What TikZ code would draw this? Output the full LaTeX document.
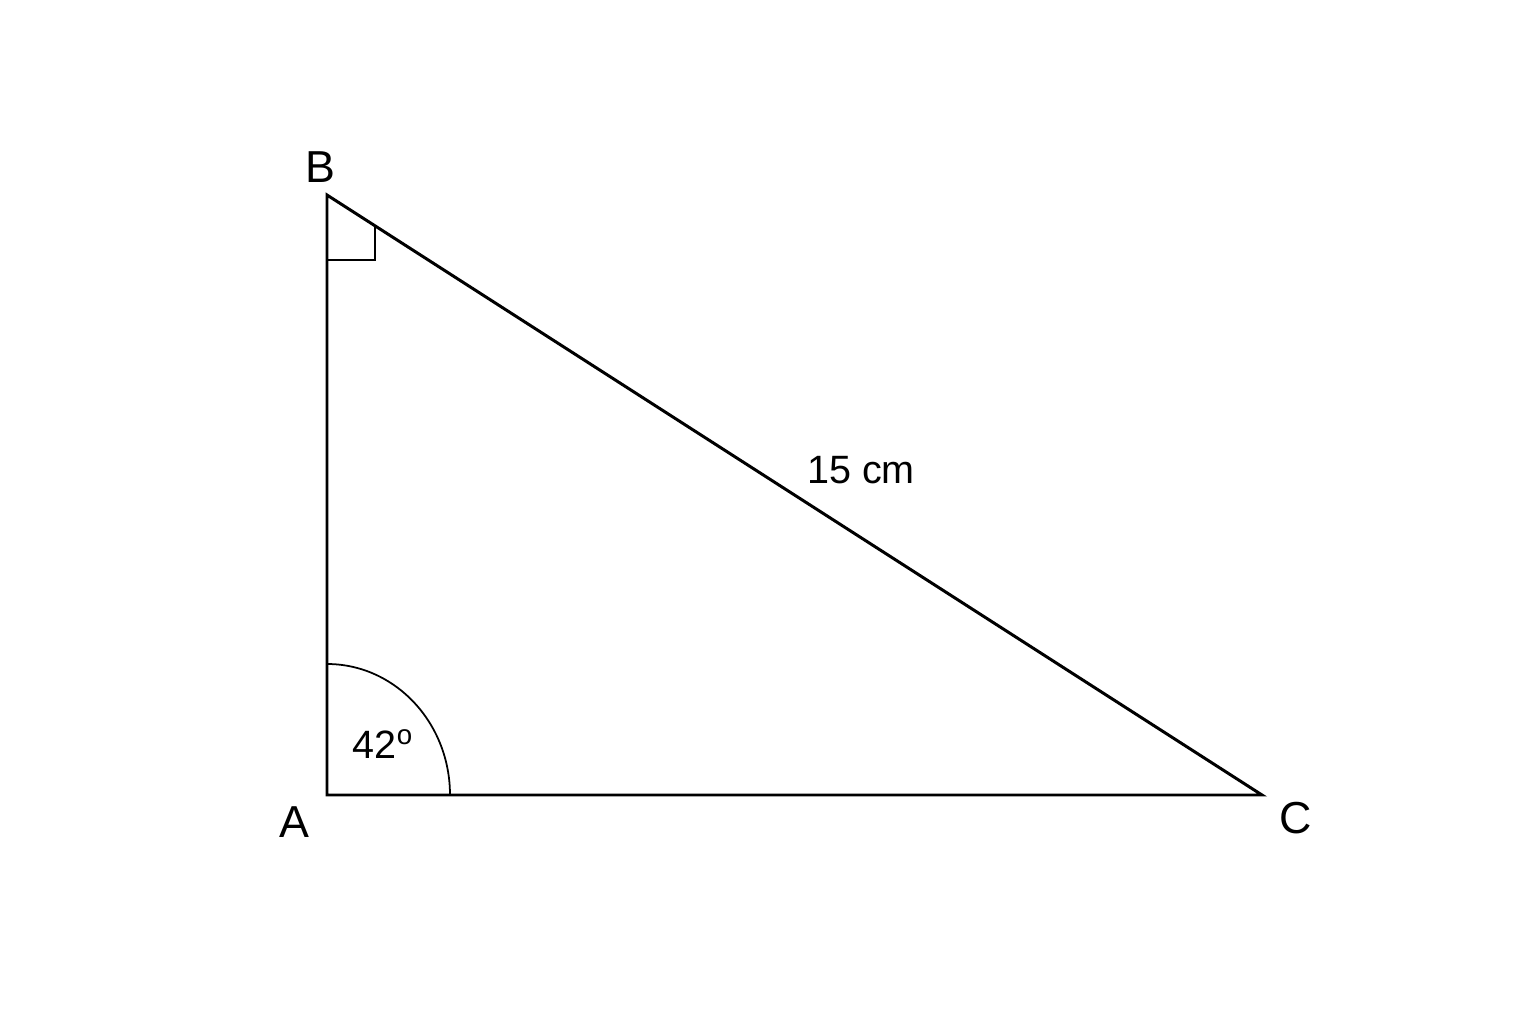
\documentclass[tikz,border=0pt]{standalone}
\usepackage{fontspec}
\setmainfont{Liberation Sans}
\usetikzlibrary{positioning}

\begin{document}
\begin{tikzpicture}
		[x=0.02cm, y=-0.02cm, side/.style = {line width=1.7pt, line join=miter},
		 vlabel/.style = {font=\fontsize{25.5}{30}\selectfont, inner sep=0pt},
		 mlabel/.style = {font=\fontsize{22.5}{27}\selectfont, inner sep=0pt}]
	\useasboundingbox (0,0) rectangle (1536,1024);
	\coordinate (A) at (327,795);
	\coordinate (B) at (327,195);
	\coordinate (C) at (1262,795);
	\coordinate (r1) at (327,260);
	\coordinate (r2) at (375,260);
	\coordinate (r3) at (375,226);
	\node[vlabel] (a) at (294,822) {A};
	\node[vlabel] (b) at (320,167) {B};
	\node[vlabel] (c) at (1296,818) {C};
	\node[mlabel] (hyp) at (861,470) {15 cm};
	\node[mlabel] (ang) at (383,744) {42\textsuperscript{o}};
	\draw[side] (A) -- (B) -- (C) -- cycle;
	\draw[line width=1.4pt] (r1) -- (r2) -- (r3);
	\draw[line width=1pt] (450,795) arc[start angle=0, end angle=90, x radius=123, y radius=-131];
\end{tikzpicture}
\end{document}
